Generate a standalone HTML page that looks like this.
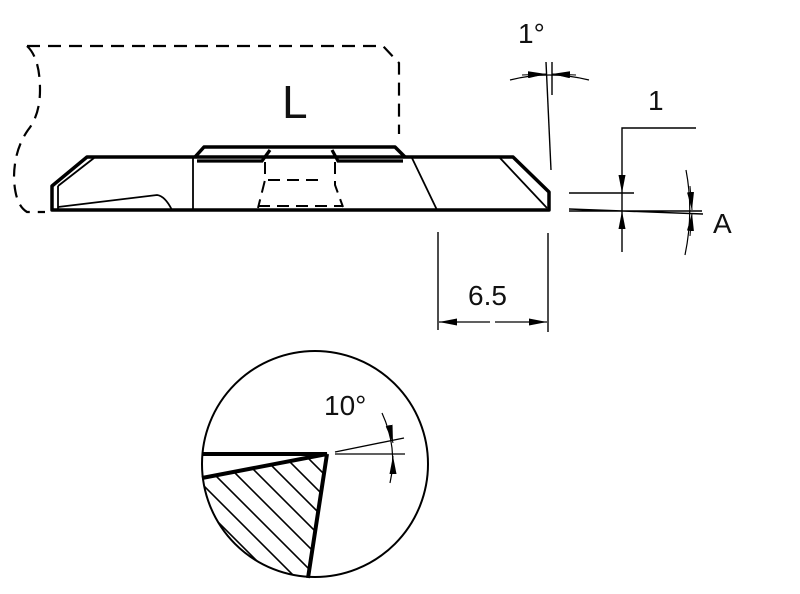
<!DOCTYPE html>
<html><head><style>html,body{margin:0;padding:0;background:#fff}</style></head><body>
<svg width="800" height="589" viewBox="0 0 800 589" xmlns="http://www.w3.org/2000/svg" font-family="Liberation Sans, sans-serif">
<defs>
<marker id="ar" viewBox="0 0 18 7" refX="18" refY="3.5" markerWidth="18" markerHeight="7" markerUnits="userSpaceOnUse" orient="auto"><path d="M0,0 L18,3.5 L0,7 z" fill="#000"/></marker>
<clipPath id="cc"><circle cx="315" cy="464" r="113"/></clipPath>
<clipPath id="tp"><polygon points="327,454 202,478 180,600 308,580"/></clipPath>
</defs>
<g fill="none" stroke="#000">
<path d="M27,46 L383,46 L399,63 L399,134" stroke-width="2.2" stroke-dasharray="13,8"/>
<path d="M27,46 Q40,58 40,90 Q40,115 28,130 Q14,150 14,178 Q15,205 27,212 L45,212" stroke-width="2.2" stroke-dasharray="13,8"/>
<path d="M87,157 L513,157 L549,192 L549,210 L52,210 L52,186 Z" stroke-width="3.5" stroke-linejoin="round"/>
<path d="M58,186 L94,158" stroke-width="1.8"/>
<path d="M58,186 L58,209" stroke-width="1.8"/>
<path d="M500,158 L547,208" stroke-width="1.8"/>
<path d="M195,157 L204,147 L395,147 L405,157" stroke-width="3.5" stroke-linejoin="round"/>
<path d="M197,161 L262,161 L270,150 M332,150 L338,161 L403,161" stroke-width="3.2"/>
<path d="M193,157 L193,210" stroke-width="1.8"/>
<path d="M412,158 L437,210" stroke-width="1.8"/>
<path d="M58,207 L157,195 Q165,196 172,210" stroke-width="1.8"/>
<path d="M265,162 L265,180 L258,208 M268,180 L324,180 M335,162 L335,185 L343,207 M258,206 L343,206" stroke-width="2" stroke-dasharray="12,7"/>
<path d="M546,62 L551,170" stroke-width="1.4"/>
<path d="M552,62 L552,95" stroke-width="1.4"/>
<path d="M510,80 Q549,70 589,80" stroke-width="1.2"/>
<path d="M522,75 L546,74" stroke-width="1" marker-end="url(#ar)"/>
<path d="M576,75 L552,74" stroke-width="1" marker-end="url(#ar)"/>
<path d="M696,128 L622,128 L622,252" stroke-width="1.4"/>
<path d="M569,193 L634,193 M569,211 L702,211 M569,209 L703,214" stroke-width="1.4"/>
<path d="M622,168 L622,193" stroke-width="1" marker-end="url(#ar)"/>
<path d="M622,236 L622,211" stroke-width="1" marker-end="url(#ar)"/>
<path d="M686,170 Q694,212 685,255" stroke-width="1.2"/>
<path d="M690,186 L692,210" stroke-width="1" marker-end="url(#ar)"/>
<path d="M690,236 L692,213" stroke-width="1" marker-end="url(#ar)"/>
<path d="M438,232 L438,330 M548,233 L548,332" stroke-width="1.4"/>
<path d="M490,322 L439,322" stroke-width="1.3" marker-end="url(#ar)"/>
<path d="M495,322 L547,322" stroke-width="1.3" marker-end="url(#ar)"/>
<circle cx="315" cy="464" r="113" stroke-width="2"/>
<g clip-path="url(#cc)"><g clip-path="url(#tp)" stroke-width="1.6">
<path d="M94,420 L274,600 M116,420 L296,600 M138,420 L318,600 M160,420 L340,600 M182,420 L362,600 M204,420 L384,600 M226,420 L406,600 M248,420 L428,600 M270,420 L450,600 M292,420 L472,600 M314,420 L494,600"/>
</g></g>
<path d="M202,454 L327,454 L202,478 M327,454 L308,578" stroke-width="4" stroke-linejoin="miter"/>
<path d="M335,454 L405,454 M335,452 L404,438" stroke-width="1.3"/>
<path d="M382,413 Q398,448 390,483" stroke-width="1.2"/>
<path d="M389,425 L393,443" stroke-width="1" marker-end="url(#ar)"/>
<path d="M393,474 L393,456" stroke-width="1" marker-end="url(#ar)"/>
</g>
<g font-size="28" fill="#111">
<text x="282" y="118" font-size="46">L</text>
<text x="518" y="43">1°</text>
<text x="648" y="110">1</text>
<text x="713" y="233">A</text>
<text x="468" y="305">6.5</text>
<text x="324" y="415">10°</text>
</g>
</svg>
</body></html>
